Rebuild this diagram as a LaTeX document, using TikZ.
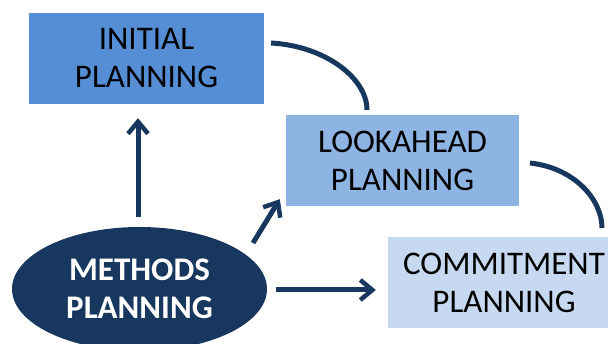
\documentclass[tikz,border=0pt]{standalone}
\usepackage{fontspec}
\setmainfont{Carlito}
\usetikzlibrary{arrows.meta,shapes.geometric}
\definecolor{navy}{HTML}{17375E}
\definecolor{boxA}{HTML}{558ED5}
\definecolor{boxB}{HTML}{8EB4E3}
\definecolor{boxC}{HTML}{C6D9F1}
\tikzset{
  plbox/.style={rectangle, minimum width=233pt, minimum height=91pt, align=center,
    inner sep=0pt, font=\fontsize{33}{38}\selectfont, text=black},
  conn/.style={draw=navy, line width=5pt},
  arr/.style={conn, -{Straight Barb[length=12pt,width=20pt,line width=4.5pt]}},
}
\begin{document}
\begin{tikzpicture}[x=1pt,y=-1pt]
\useasboundingbox (0,0) rectangle (608,344);
\begin{scope}
\clip (0,0) rectangle (608,344);
\node[plbox, fill=boxA, minimum width=235pt] (init) at (146.5,58.5) {INITIAL\\PLANNING};
\node[plbox, fill=boxB] (look) at (402.5,160.5) {LOOKAHEAD\\PLANNING};
\node[plbox, fill=boxC, minimum width=232pt] (comm) at (504,282.5) {COMMITMENT\\PLANNING};
\node[ellipse, fill=navy, minimum width=255pt, minimum height=124pt, inner sep=0pt,
  align=center, text=white, font=\fontsize{33}{38}\selectfont\bfseries] (meth) at (139.5,289) {METHODS\\PLANNING};
\end{scope}
\coordinate (c1s) at (271,43);
\coordinate (c1e) at (367,110);
\coordinate (c2s) at (530,163);
\coordinate (c2e) at (602,228);
\draw[conn] (c1s) .. controls (325,46) and (367,78) .. (c1e);
\draw[conn] (c2s) .. controls (575,168) and (602,200) .. (c2e);
\draw[arr] (meth.north -| 138,0) ++(0,-10) -- ([yshift=-14pt]init.south -| 138,0);
\draw[arr] (253,243) -- ([xshift=-6pt,yshift=7pt]look.south west);
\draw[arr] (276,290) -- ([xshift=-12pt]comm.west |- 0,290);
\end{tikzpicture}
\end{document}
